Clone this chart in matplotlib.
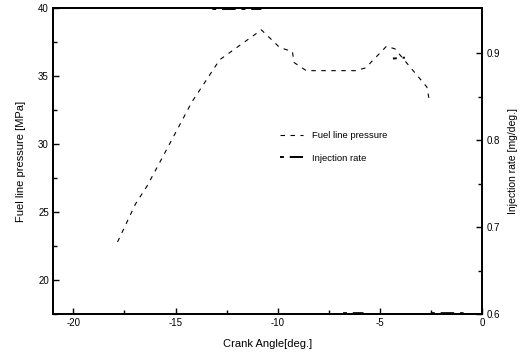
import numpy as np
import matplotlib
matplotlib.use("Agg")
import matplotlib.pyplot as plt
from matplotlib.ticker import MultipleLocator, FixedLocator

plt.rcParams['font.family'] = ['Liberation Sans', 'DejaVu Sans']

# fuel line pressure [MPa] against crank angle [deg.]
crank_p = [-17.84, -16.96, -16.4, -15.65, -14.2, -12.84, -10.8, -9.9, -9.28, -9.2,
           -8.6, -7.3, -6.2, -5.7, -4.67, -4.26, -3.37, -2.7, -2.6]
pressure = [22.8, 25.6, 26.9, 29.0, 33.1, 36.2, 38.4, 37.1, 36.8, 36.0,
            35.4, 35.4, 35.4, 35.6, 37.2, 37.0, 35.4, 34.2, 33.4]

# injection rate [mg/deg.] (gaps where the trace is not shown)
crank_q = [-13.2, -12.0, -10.8, np.nan, -4.36, -3.77, np.nan, -6.8, -5.8, np.nan, -2.5, -0.9]
inj_rate = [0.951, 0.951, 0.951, np.nan, 0.894, 0.895, np.nan, 0.601, 0.601, np.nan, 0.601, 0.601]

fig = plt.figure(figsize=(5.30, 3.53), dpi=100)
ax = fig.add_axes([0.100, 0.1105, 0.8094, 0.8665])
ax2 = ax.twinx()

l1, = ax.plot(crank_p, pressure, color='black', lw=0.8, linestyle=(0, (4, 5)),
              label='Fuel line pressure')
l2, = ax2.plot(crank_q, inj_rate, color='black', lw=1.4, linestyle=(0, (2, 3, 7, 3)),
               label='Injection rate', clip_on=False)

ax.set_xlim(-21, 0)
ax.set_ylim(17.5, 40)
ax2.set_ylim(0.6, 0.952)

ax.xaxis.set_major_locator(MultipleLocator(5))
ax.xaxis.set_minor_locator(MultipleLocator(2.5))
ax.yaxis.set_major_locator(MultipleLocator(5))
ax.yaxis.set_minor_locator(MultipleLocator(2.5))
ax2.yaxis.set_major_locator(FixedLocator([0.6, 0.7, 0.8, 0.9]))
ax2.yaxis.set_minor_locator(FixedLocator([0.65, 0.75, 0.85]))
ax.set_xticks([-20, -15, -10, -5, 0])
ax.set_xticklabels(['-20', '-15', '-10', '-5', '0'])
ax.set_yticks([20, 25, 30, 35, 40])
ax2.set_yticks([0.6, 0.7, 0.8, 0.9])
ax2.set_yticklabels(['0.6', '0.7', '0.8', '0.9'])

for a in (ax, ax2):
    a.tick_params(which='both', direction='in', width=1.0, labelsize=7, pad=3)
    a.tick_params(which='major', length=4)
    a.tick_params(which='minor', length=3)
    for s in a.spines.values():
        s.set_linewidth(1.3)
ax.tick_params(axis='y', which='both', right=False)
ax.tick_params(axis='x', which='both', top=False)

ax.set_xlabel('Crank Angle[deg.]', fontsize=8, labelpad=8)
ax.set_ylabel('Fuel line pressure [MPa]', fontsize=8, labelpad=9)
ax2.set_ylabel('Injection rate [mg/deg.]', fontsize=7.5, labelpad=6)

ax.legend(handles=[l1, l2], loc='upper left', bbox_to_anchor=(0.51, 0.625),
          frameon=False, fontsize=6.8, handlelength=2.4, labelspacing=1.4,
          handletextpad=1.0)

fig.savefig('out.png', dpi=100)
